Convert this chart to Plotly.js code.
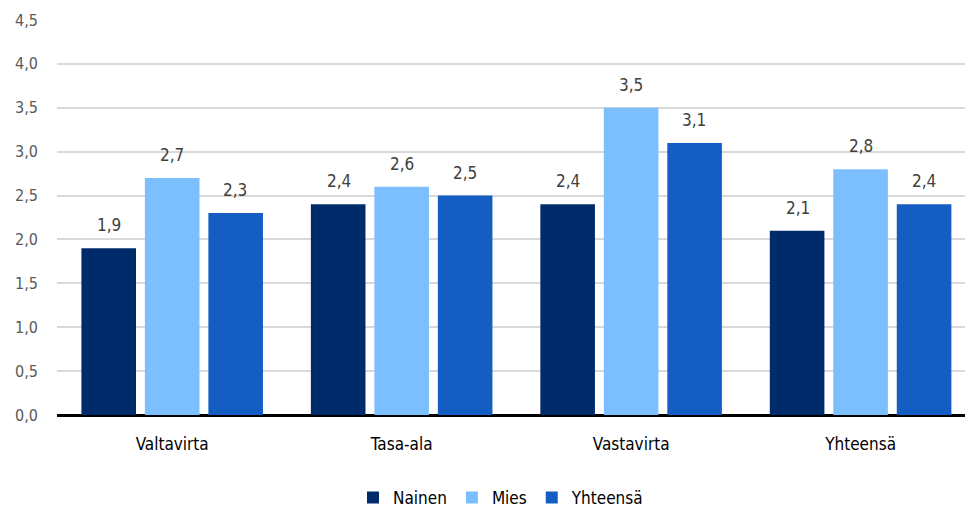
<!DOCTYPE html>
<html>
<head>
<meta charset="utf-8">
<script src="https://cdn.plot.ly/plotly-3.0.1.min.js"></script>
<style>html,body{margin:0;padding:0;background:#fff;}#chart{width:965px;height:508px;}</style>
</head>
<body>
<div id="chart"></div>
<script>
const categories = ['Valtavirta', 'Tasa-ala', 'Vastavirta', 'Yhteensä'];
const seriesNames = ['Nainen', 'Mies', 'Yhteensä'];
const nainen = [1.9, 2.4, 2.4, 2.1];
const mies = [2.7, 2.6, 3.5, 2.8];
const yhteensa = [2.3, 2.5, 3.1, 2.4];
const yTicks = [0, 0.5, 1, 1.5, 2, 2.5, 3, 3.5, 4, 4.5];

const colors = ['#002B6B', '#7BBFFF', '#145DC2'];
const FONT = '"Liberation Sans Narrow", "DejaVu Sans Condensed", "Roboto", sans-serif';
const allSeries = [nainen, mies, yhteensa];

const traces = allSeries.map((vals, i) => ({
  type: 'bar',
  name: seriesNames[i],
  x: categories.map((c, k) => k),
  y: vals,
  marker: {color: colors[i], line: {width: 0}},
  hoverinfo: 'skip'
}));

const fmt = v => v.toFixed(1).replace('.', ',');
const annotations = [];
const shifts = [-63, 0, 63];
allSeries.forEach((vals, i) => {
  vals.forEach((v, k) => {
    annotations.push({
      x: k, y: v, xref: 'x', yref: 'y',
      text: fmt(v), showarrow: false,
      xshift: shifts[i], yshift: 23, yanchor: 'middle',
      font: {family: FONT, size: 17, color: '#404040'}
    });
  });
});

const layout = {
  width: 965, height: 508,
  margin: {l: 57, r: 0, t: 20, b: 93, autoexpand: false},
  paper_bgcolor: '#fff', plot_bgcolor: '#fff',
  separators: ', ',
  barmode: 'group',
  bargap: 0.17,
  bargroupgap: 0.14,
  font: {family: FONT},
  xaxis: {
    range: [-0.502, 3.455],
    tickmode: 'array',
    tickvals: categories.map((c, k) => k),
    ticktext: categories,
    showgrid: false, zeroline: false, showline: false,
    ticks: '', ticklabelstandoff: 17,
    tickfont: {family: FONT, size: 17, color: '#000'}
  },
  yaxis: {
    range: [0, 4.5],
    tickmode: 'array',
    tickvals: yTicks,
    ticktext: yTicks.map(fmt),
    showgrid: true, gridcolor: '#D9D9D9', gridwidth: 2,
    zeroline: true, zerolinecolor: '#000', zerolinewidth: 3,
    ticks: '', ticklabelstandoff: 18,
    tickfont: {family: FONT, size: 16, color: '#595959'}
  },
  showlegend: true,
  legend: {
    orientation: 'h', x: 0.489, xanchor: 'center', y: -0.21, yanchor: 'middle',
    font: {family: FONT, size: 17, color: '#000'},
    itemwidth: 30, traceorder: 'normal'
  },
  annotations: annotations
};

Plotly.newPlot('chart', traces, layout, {displayModeBar: false, staticPlot: true});
</script>
</body>
</html>
